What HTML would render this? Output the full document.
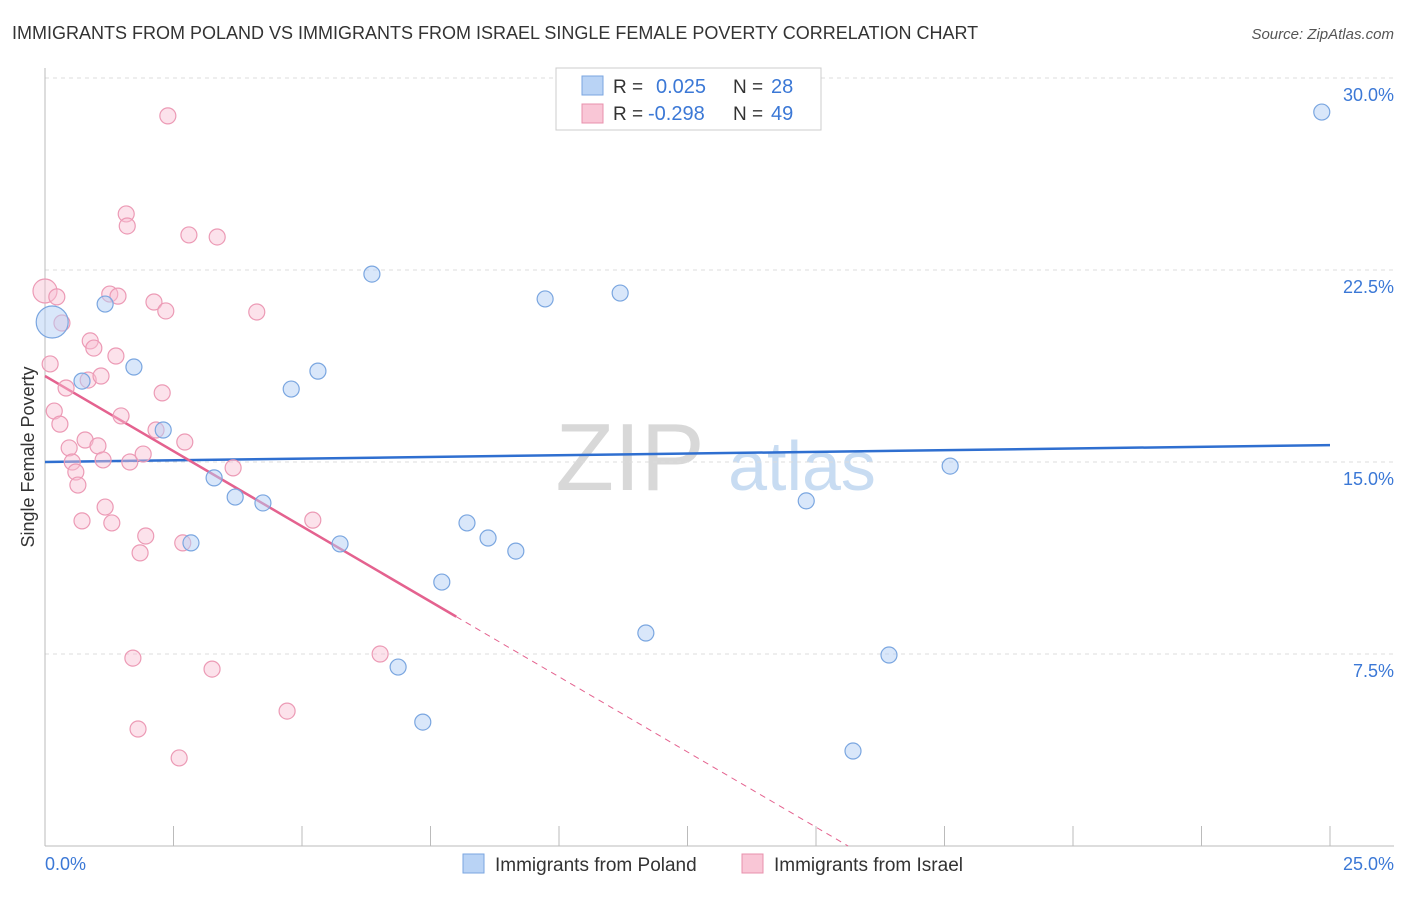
<!DOCTYPE html>
<html><head><meta charset="utf-8"><style>
body{margin:0;background:#fff;font-family:"Liberation Sans",sans-serif}
svg text{font-family:"Liberation Sans",sans-serif}
</style></head><body>
<svg id="chart" width="1406" height="892" xmlns="http://www.w3.org/2000/svg">
<text x="12" y="39" font-size="18" fill="#333">IMMIGRANTS FROM POLAND VS IMMIGRANTS FROM ISRAEL SINGLE FEMALE POVERTY CORRELATION CHART</text>
<text x="1394" y="39" font-size="15" fill="#555" text-anchor="end" font-style="italic">Source: ZipAtlas.com</text>
<g>
<text x="630" y="490" font-size="96" font-family="Liberation Serif" fill="#d8d8d8" text-anchor="middle">ZIP</text>
<text x="802" y="490" font-size="70" fill="#c8dcf2" text-anchor="middle">atlas</text>
</g>
<g id="grid"></g>
<g id="axes"></g>
<g id="trend"></g>
<g id="points"></g>
<text transform="translate(34,457) rotate(-90)" font-size="18" fill="#333" text-anchor="middle">Single Female Poverty</text>
<g>
<rect x="556" y="68" width="265" height="62" fill="#fff" stroke="#ccc"/>
<rect x="582" y="76" width="21" height="19" fill="#b9d3f5" stroke="#7aa6e0"/>
<rect x="582" y="104" width="21" height="19" fill="#f9c6d6" stroke="#e890ac"/>
<text x="613" y="93" font-size="19" fill="#333">R =</text><text x="656" y="93" font-size="20" fill="#3b78d6">0.025</text>
<text x="733" y="93" font-size="19" fill="#333">N =</text><text x="771" y="93" font-size="20" fill="#3b78d6">28</text>
<text x="613" y="120" font-size="19" fill="#333">R =</text><text x="648" y="120" font-size="20" fill="#3b78d6">-0.298</text>
<text x="733" y="120" font-size="19" fill="#333">N =</text><text x="771" y="120" font-size="20" fill="#3b78d6">49</text>
</g>
<g>
<rect x="463" y="854" width="21" height="19" fill="#b9d3f5" stroke="#7aa6e0"/>
<text x="495" y="871" font-size="19" fill="#333">Immigrants from Poland</text>
<rect x="742" y="854" width="21" height="19" fill="#f9c6d6" stroke="#e890ac"/>
<text x="774" y="871" font-size="19" fill="#333">Immigrants from Israel</text>
</g>
</svg>
<script>
const polandX=[0.14,1.17,0.72,1.73,2.30,2.84,3.29,3.70,4.24,4.79,5.31,5.74,6.36,6.87,7.35,7.72,8.21,8.62,9.16,9.73,11.19,11.69,12.98,14.81,15.72,16.42,17.61,24.84];
const polandY=[20.47,21.17,18.16,18.71,16.25,11.84,14.38,13.63,13.40,17.85,18.55,11.80,22.34,6.99,4.84,10.31,12.62,12.03,11.52,21.37,21.60,8.32,29.18,13.48,3.71,7.46,14.84,28.67];
const israelX=[0.00,0.23,0.33,0.10,0.18,0.29,0.41,0.84,0.47,0.53,0.60,0.64,0.78,0.72,0.88,0.95,1.03,1.09,1.13,1.17,1.30,1.26,1.42,1.38,1.48,1.58,1.60,1.65,1.71,1.81,1.85,1.91,1.96,2.12,2.16,2.28,2.35,2.39,2.61,2.68,2.72,2.80,3.25,3.35,3.66,4.12,4.71,5.21,6.52];
const israelY=[21.68,21.45,20.43,18.83,16.99,16.48,17.89,18.20,15.55,15.00,14.61,14.10,15.86,12.70,19.73,19.45,15.63,18.36,15.08,13.24,12.62,21.56,21.48,19.14,16.80,24.69,24.22,15.00,7.34,4.57,11.45,15.31,12.11,21.25,16.25,17.70,20.90,28.52,3.44,11.84,15.78,23.87,6.91,23.79,14.77,20.86,5.27,12.73,7.50];
const yTicks=[7.5,15,22.5,30];
const yTickLabels=["7.5%","15.0%","22.5%","30.0%"];
const xTicks=[0,2.5,5,7.5,10,12.5,15,17.5,20,22.5,25];
const polandTrend=[15.0,15.66];
const israelTrend=[18.36,-1.175];
const israelSolidEnd=8.0;

const NS="http://www.w3.org/2000/svg";
const sx=v=>45+v/25*1285;
const sy=v=>846-v*25.6;
function mk(tag,attrs,parent){const e=document.createElementNS(NS,tag);for(const k in attrs)e.setAttribute(k,attrs[k]);document.getElementById(parent).appendChild(e);return e;}
yTicks.forEach((t,i)=>{
  const l=mk('line',{x1:45,x2:1394,y1:sy(t),y2:sy(t),stroke:'#ddd','stroke-dasharray':'4,4'},'grid');
  
  
  const tx=mk('text',{x:1394,y:sy(t)+23,'font-size':18,fill:'#3b78d6','text-anchor':'end'},'grid');
  tx.textContent=yTickLabels[i];
  
  
});
const ax=mk('line',{x1:45,x2:45,y1:68,y2:846,stroke:'#bbb'},'axes');


const xa=mk('line',{x1:45,x2:1394,y1:846,y2:846,stroke:'#bbb'},'axes');


xTicks.forEach(t=>{
  const l=mk('line',{x1:sx(t),x2:sx(t),y1:826,y2:846,stroke:'#bbb'},'axes');
  
  
});
const xl0=mk('text',{x:45,y:870,'font-size':18,fill:'#3b78d6'},'axes');xl0.textContent='0.0%';


const xl1=mk('text',{x:1394,y:870,'font-size':18,fill:'#3b78d6','text-anchor':'end'},'axes');xl1.textContent='25.0%';



israelX.forEach((x,i)=>{
  const c=mk('circle',{cx:sx(x),cy:sy(israelY[i]),r:i===0?12:8,fill:'rgba(249,190,210,0.45)',stroke:'#ec9ab5','stroke-width':1.2},'points');
  
  
});
polandX.forEach((x,i)=>{
  const c=mk('circle',{cx:sx(x),cy:sy(polandY[i]),r:i===0?16:8,fill:'rgba(180,208,245,0.5)',stroke:'#7aa6e0','stroke-width':1.2},'points');
  
  
});
const pt=mk('line',{x1:sx(0),y1:sy(polandTrend[0]),x2:sx(25),y2:sy(polandTrend[1]),stroke:'#2f6fd0','stroke-width':2.5},'trend');


const iy=x=>israelTrend[0]+israelTrend[1]*x;
const zeroX=-israelTrend[0]/israelTrend[1];
const it=mk('line',{x1:sx(0),y1:sy(iy(0)),x2:sx(israelSolidEnd),y2:sy(iy(israelSolidEnd)),stroke:'#e4628f','stroke-width':2.5},'trend');


const id=mk('line',{x1:sx(israelSolidEnd),y1:sy(iy(israelSolidEnd)),x2:sx(zeroX),y2:sy(0),stroke:'#e4628f','stroke-width':1,'stroke-dasharray':'6,5'},'trend');


</script>
</body></html>
